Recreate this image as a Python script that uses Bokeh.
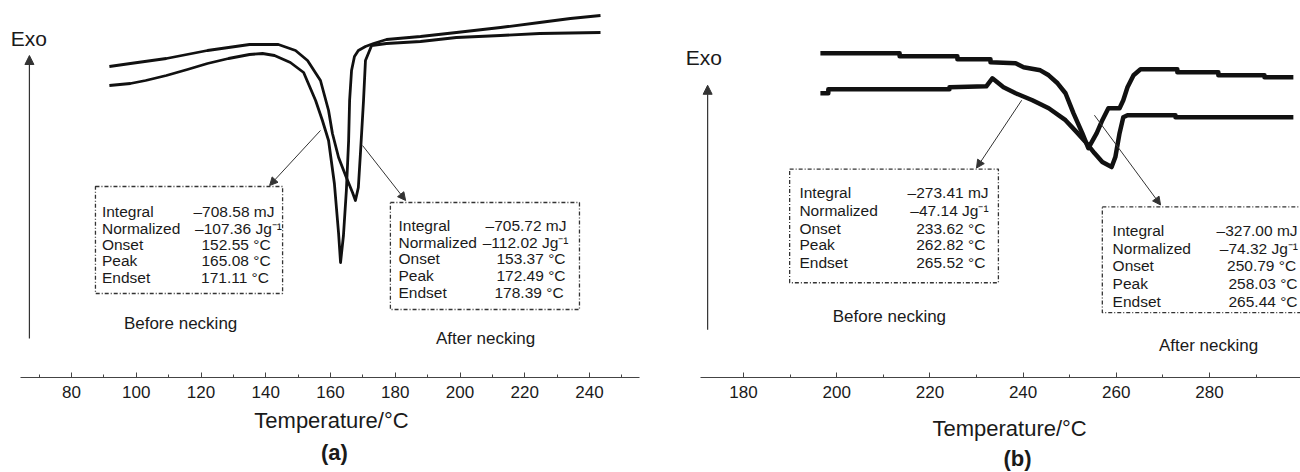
from bokeh.plotting import figure
from bokeh.layouts import row, column
from bokeh.models import Range1d, SingleIntervalTicker, Arrow, NormalHead
from bokeh.embed import file_html
from bokeh.resources import INLINE
from bokeh.core.properties import value

FONT = "Liberation Sans"
INK = "#1a1a1a"

# ---------------- Panel (a) data: temperature (°C) vs heat flow (arb.) ----------------
a_before_T = [91.7, 98.2, 102.9, 109.3, 115.8, 122.0, 128.5, 135.0, 139.0, 142.7, 147.6, 151.7,
              155.4, 157.5, 159.4, 161.2, 162.5, 163.1, 164.0, 164.9, 165.6, 165.9, 166.5, 167.4,
              168.6, 170.8, 173.3, 177.3, 187.8, 198.9, 212.5, 224.6, 234.1, 243.4]
a_before_hf = [29.2, 29.4, 29.7, 30.2, 30.8, 31.4, 31.9, 32.3, 32.4, 32.2, 31.5, 30.5,
               27.7, 25.7, 23.7, 19.4, 14.4, 11.5, 14.2, 18.7, 23.7, 27.7, 30.7, 32.1,
               32.7, 33.1, 33.4, 33.8, 34.1, 34.5, 35.0, 35.5, 35.9, 36.2]

a_after_T = [91.7, 98.2, 109.3, 122.0, 135.0, 143.9, 149.2, 152.9, 156.9, 159.4, 160.6, 162.5,
             164.9, 166.8, 167.7, 168.6, 169.3, 170.2, 170.8, 172.7, 177.3, 187.8, 198.9,
             212.5, 224.6, 243.4]
a_after_hf = [31.1, 31.4, 31.9, 32.7, 33.3, 33.3, 32.7, 31.7, 29.7, 26.7, 24.4, 22.0,
              20.0, 18.5, 17.7, 19.0, 22.7, 27.7, 31.7, 33.2, 33.4, 33.6, 34.0,
              34.2, 34.4, 34.5]

# ---------------- Panel (b) data ----------------
b_before_T = [196.5, 198.2, 198.2, 224.2, 224.2, 232.1, 233.4, 235.8, 238.4, 242.0, 245.5, 249.1,
              251.7, 253.6, 255.3, 257.0, 259.0, 259.8, 260.7, 261.5, 262.4, 272.7, 272.7, 298.0]
b_before_hf = [28.5, 28.5, 28.9, 28.9, 29.1, 29.2, 30.0, 29.1, 28.5, 27.8, 27.0, 25.8,
               24.5, 23.5, 22.5, 21.6, 21.1, 22.1, 24.5, 26.1, 26.3, 26.3, 26.1, 26.1]

b_after_T = [196.5, 213.5, 213.5, 225.9, 225.9, 233.0, 233.0, 238.4, 240.1, 243.7, 245.5, 247.4,
             249.1, 250.8, 252.7, 254.0, 255.8, 257.0, 258.3, 260.7, 261.5, 262.4, 263.7, 265.2,
             273.1, 273.1, 281.9, 281.9, 291.8, 291.8, 298.0]
b_after_hf = [32.5, 32.5, 32.2, 32.2, 31.9, 31.9, 31.6, 31.5, 31.1, 30.8, 30.3, 29.5,
              28.5, 26.5, 24.5, 23.0, 24.5, 25.8, 27.0, 27.0, 27.8, 29.1, 30.3, 30.9,
              30.9, 30.6, 30.6, 30.3, 30.3, 30.1, 30.1]

# ---------------- Box texts ----------------
row_names = ["Integral", "Normalized", "Onset", "Peak", "Endset"]
a_before_vals = ["\u2013708.58 mJ", "\u2013107.36 Jg\u207b\u00b9", "152.55 \u00b0C", "165.08 \u00b0C", "171.11 \u00b0C"]
a_after_vals = ["\u2013705.72 mJ", "\u2013112.02 Jg\u207b\u00b9", "153.37 \u00b0C", "172.49 \u00b0C", "178.39 \u00b0C"]
b_before_vals = ["\u2013273.41 mJ", "\u201347.14 Jg\u207b\u00b9", "233.62 \u00b0C", "262.82 \u00b0C", "265.52 \u00b0C"]
b_after_vals = ["\u2013327.00 mJ", "\u201374.32 Jg\u207b\u00b9", "250.79 \u00b0C", "258.03 \u00b0C", "265.44 \u00b0C"]

# annotation positions (data units)
a_before_rows = [16.6, 14.9, 13.3, 11.7, 10.0]
a_after_rows = [15.2, 13.5, 11.9, 10.2, 8.5]
b_before_rows = [18.5, 16.7, 14.9, 13.3, 11.5]
b_after_rows = [14.7, 12.9, 11.2, 9.4, 7.6]
a_before_val_x = [142.7, 145.0, 141.5, 141.5, 141.0]
a_after_val_x = [232.9, 233.5, 232.6, 232.6, 232.0]
b_before_val_x = [232.6, 232.6, 231.9, 231.9, 231.9]
b_after_val_x = [298.9, 299.0, 298.6, 298.9, 298.9]

XR_A = (58.07, 258.84)
XR_B = (160.04, 299.53)


def make_panel(xr, yr, bottom, bounds):
    p = figure(width=650, height=409, x_range=Range1d(*xr), y_range=Range1d(*yr),
               output_backend="svg", toolbar_location=None, y_axis_location=None,
               title_location=None, min_border_left=0, min_border_right=0,
               min_border_top=0, min_border_bottom=bottom)
    p.outline_line_color = None
    p.grid.visible = False
    p.background_fill_color = "white"
    p.border_fill_color = "white"
    ax = p.xaxis[0]
    ax.ticker = SingleIntervalTicker(interval=20, num_minor_ticks=2)
    ax.bounds = bounds
    ax.axis_line_color = "#444444"
    ax.axis_line_width = 1.2
    ax.major_tick_in = 5
    ax.major_tick_out = 0
    ax.minor_tick_in = 3
    ax.minor_tick_out = 0
    ax.major_tick_line_color = "#444444"
    ax.minor_tick_line_color = "#444444"
    ax.major_label_text_font = FONT
    ax.major_label_text_font_size = "17px"
    ax.major_label_text_color = INK
    ax.major_label_standoff = 8
    return p


def make_caption(xr):
    p = figure(width=650, height=63, x_range=Range1d(*xr), y_range=Range1d(0, 63),
               output_backend="svg", toolbar_location=None, x_axis_location=None,
               y_axis_location=None, title_location=None, min_border_left=0,
               min_border_right=0, min_border_top=0, min_border_bottom=0)
    p.outline_line_color = None
    p.grid.visible = False
    return p


def box(p, l, r, b, t):
    p.quad(left=[l], right=[r], bottom=[b], top=[t], fill_color=None,
           line_color="#333333", line_width=1.3, line_dash="4 2 1 2")


def texts(p, xs, ys, txt, size="15.5px", align="left", bold=False):
    p.text(x=xs, y=ys, text=txt, text_font=value(FONT), text_font_size=size,
           text_align=align, text_baseline="middle", text_color=INK,
           text_font_style="bold" if bold else "normal")


def pointer(p, x0, y0, x1, y1, size=8, lw=1.0):
    p.add_layout(Arrow(end=NormalHead(size=size, fill_color="#333333", line_color="#333333"),
                       x_start=x0, y_start=y0, x_end=x1, y_end=y1,
                       line_color="#333333", line_width=lw))


# ---------------- Panel (a) ----------------
pa = make_panel(XR_A, (0, 37.7), 32, (64.4, 255.4))
pa.line(a_before_T, a_before_hf, line_color="#111111", line_width=2.8, line_join="round")
pa.line(a_after_T, a_after_hf, line_color="#111111", line_width=2.8, line_join="round")
box(pa, 87.4, 145.2, 8.4, 19.1)
box(pa, 178.5, 236.9, 6.8, 17.5)
texts(pa, [89.4] * 5, a_before_rows, row_names)
texts(pa, a_before_val_x, a_before_rows, a_before_vals, align="right")
texts(pa, [181.0] * 5, a_after_rows, row_names)
texts(pa, a_after_val_x, a_after_rows, a_after_vals, align="right")
texts(pa, [113.7], [5.4], ["Before necking"], size="17px", align="center")
texts(pa, [207.9], [3.9], ["After necking"], size="17px", align="center")
texts(pa, [61.2], [33.9], ["Exo"], size="21px")
pointer(pa, 156.9, 24.7, 141.2, 19.2)
pointer(pa, 169.9, 23.2, 183.2, 17.7)
pointer(pa, 67.0, 3.9, 67.0, 32.2, size=9, lw=1.2)

ca = make_caption(XR_A)
texts(ca, [160.3], [52], ["Temperature/\u00b0C"], size="22px", align="center")
texts(ca, [161.2], [20], ["(a)"], size="22px", align="center", bold=True)

# ---------------- Panel (b) ----------------
pb = make_panel(XR_B, (0, 37.8), 31, (170.77, 299.53))
pb.line(b_before_T, b_before_hf, line_color="#111111", line_width=4.5, line_join="round")
pb.line(b_after_T, b_after_hf, line_color="#111111", line_width=4.5, line_join="round")
box(pb, 189.9, 234.7, 9.5, 20.9)
box(pb, 257.0, 300.8, 6.5, 17.1)
texts(pb, [192.0] * 5, b_before_rows, row_names)
texts(pb, b_before_val_x, b_before_rows, b_before_vals, align="right")
texts(pb, [259.2] * 5, b_after_rows, row_names)
texts(pb, b_after_val_x, b_after_rows, b_after_vals, align="right")
texts(pb, [211.3], [6.1], ["Before necking"], size="17px", align="center")
texts(pb, [279.8], [3.2], ["After necking"], size="17px", align="center")
texts(pb, [167.6], [32.1], ["Exo"], size="21px")
pointer(pb, 239.7, 27.8, 230.0, 21.0)
pointer(pb, 255.3, 26.3, 269.5, 17.3)
pointer(pb, 172.3, 4.8, 172.3, 29.3, size=9, lw=1.2)

cb = make_caption(XR_B)
texts(cb, [237.1], [44], ["Temperature/\u00b0C"], size="22px", align="center")
texts(cb, [238.8], [14], ["(b)"], size="22px", align="center", bold=True)

layout = column(row(pa, pb), row(ca, cb))
open("out.html", "w").write(file_html(layout, INLINE))
